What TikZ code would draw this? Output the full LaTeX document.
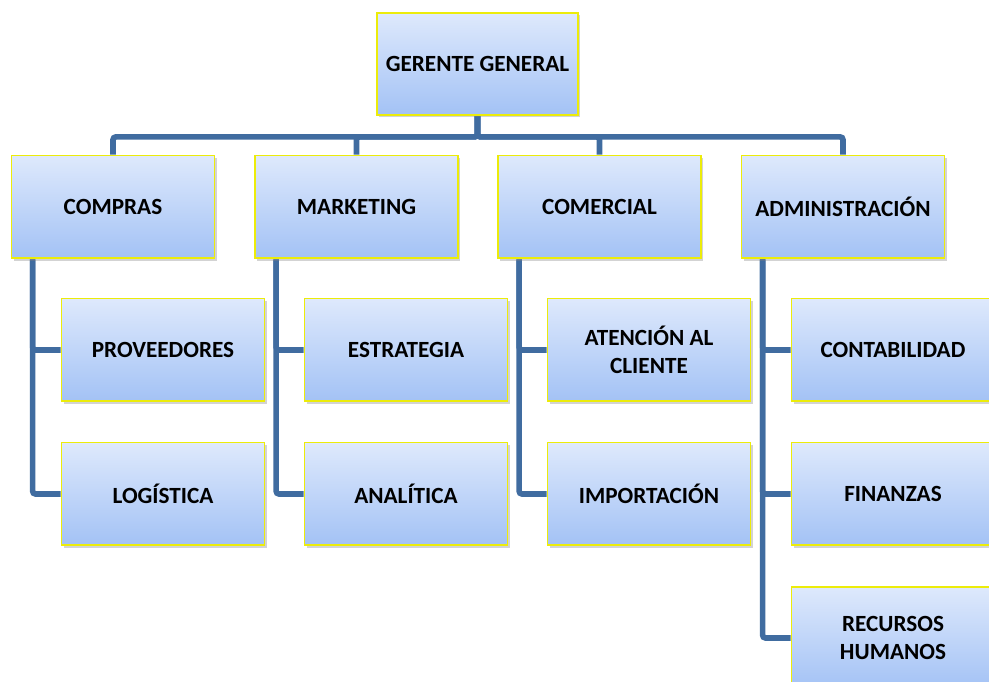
\documentclass[tikz,border=0pt]{standalone}
\usepackage{fontspec}
\setmainfont{Carlito}
\usetikzlibrary{shadows,backgrounds}
\definecolor{linkblue}{RGB}{64,108,160}
\definecolor{boxtop}{RGB}{222,233,252}
\definecolor{boxbottom}{RGB}{163,194,245}
\definecolor{boxedge}{RGB}{236,236,10}
\begin{document}
\begin{tikzpicture}
    [x=0.025cm,y=-0.025cm,
     unit/.style={draw=boxedge,line width=1.3pt,top color=boxtop,bottom color=boxbottom,
       minimum width=5.07cm,minimum height=2.57cm,align=center,inner sep=2pt,
       font=\fontsize{16.5}{20}\selectfont\bfseries,
       drop shadow={shadow xshift=1.5pt,shadow yshift=-1.5pt,opacity=0.35}},
     link/.style={draw=linkblue,line width=4pt,rounded corners=2pt}]
    \useasboundingbox (0,0) rectangle (989,682);
    % top and first level
    \node [unit,minimum width=5.02cm,minimum height=2.55cm] (gerente) at (477.5,64) {GERENTE GENERAL};
    \node [unit] (compras) at (113,207) {COMPRAS};
    \node [unit] (marketing) at (356.5,207) {MARKETING};
    \node [unit] (comercial) at (599.5,207) {COMERCIAL};
    \node [unit] (admin) at (843,207) {ADMINISTRACIÓN};
    % second level
    \node [unit] (proveedores) at (163,350) {PROVEEDORES};
    \node [unit] (logistica) at (163,494) {LOGÍSTICA};
    \node [unit] (estrategia) at (406,350) {ESTRATEGIA};
    \node [unit] (analitica) at (406,494) {ANALÍTICA};
    \node [unit] (atencion) at (649,350) {ATENCIÓN AL\\CLIENTE};
    \node [unit] (importacion) at (649,494) {IMPORTACIÓN};
    \node [unit] (contabilidad) at (893,350) {CONTABILIDAD};
    \node [unit] (finanzas) at (893,494) {FINANZAS};
    \node [unit] (rrhh) at (893,638) {RECURSOS\\HUMANOS};
    \begin{scope}[on background layer]
      \foreach \dept in {compras,marketing,comercial,admin}
        \draw [link] (gerente.south) -- ++(0,21) -| (\dept.north);
      \foreach \dept/\sub in {compras/proveedores,compras/logistica,
          marketing/estrategia,marketing/analitica,
          comercial/atencion,comercial/importacion,
          admin/contabilidad,admin/finanzas,admin/rrhh}
        \draw [link] ([xshift=0.55cm]\dept.south west) |- (\sub.west);
    \end{scope}
  \end{tikzpicture}
\end{document}
